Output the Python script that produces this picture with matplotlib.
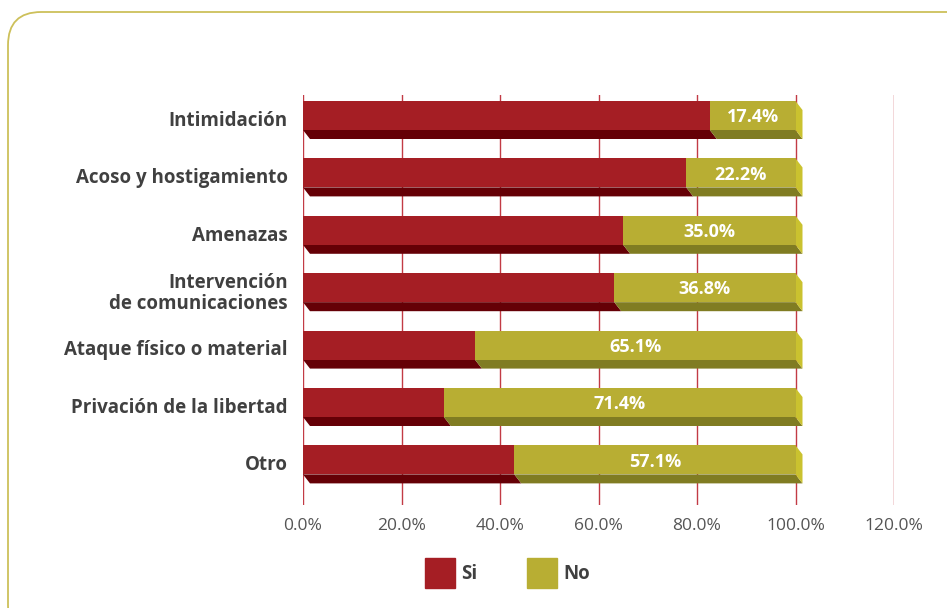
import numpy as np
import matplotlib.pyplot as plt
from matplotlib.patches import Polygon, FancyBboxPatch, Rectangle

categories = ['Intimidación', 'Acoso y hostigamiento', 'Amenazas',
              'Intervención\nde comunicaciones', 'Ataque físico o material',
              'Privación de la libertad', 'Otro']
si = [82.6, 77.8, 65.0, 63.2, 34.9, 28.6, 42.9]
no = [17.4, 22.2, 35.0, 36.8, 65.1, 71.4, 57.1]
ticks = [0, 20, 40, 60, 80, 100, 120]

RED, RED_DK = '#a51e24', '#650006'
YEL, YEL_DK, YEL_SIDE = '#b8ae33', '#807c22', '#cac22f'
TXT = '#404040'

plt.rcParams['font.family'] = ['Open Sans', 'DejaVu Sans']

fig = plt.figure(figsize=(9.47, 6.08), dpi=100)

# rounded frame
frame = FancyBboxPatch((8 / 947, -0.05), 1.2, 1.05 - 12 / 608,
                       boxstyle='round,pad=0,rounding_size=0.035',
                       transform=fig.transFigure, fill=False,
                       edgecolor='#cdc05a', lw=1.3, mutation_aspect=947 / 608)
fig.patches.append(frame)

ax = fig.add_axes([303 / 947, 1 - 505 / 608, 591 / 947, 410 / 608])

n = len(categories)
y = np.arange(n)
h = 0.505          # front face height
dy = 0.157         # depth (down)
dx = 1.42          # depth (right)

for xv in ticks:
    ax.axvline(xv, color='#c23b45', lw=1, zorder=0)

for i in range(n):
    top, bot = y[i] - h / 2, y[i] + h / 2
    s, t = si[i], si[i] + no[i]
    # bottom faces
    ax.add_patch(Polygon([(0, bot), (s, bot), (s + dx, bot + dy), (dx, bot + dy)],
                         closed=True, color=RED_DK, lw=0, zorder=2))
    ax.add_patch(Polygon([(s, bot), (t, bot), (t + dx, bot + dy), (s + dx, bot + dy)],
                         closed=True, color=YEL_DK, lw=0, zorder=2))
    # right side face
    ax.add_patch(Polygon([(t, top), (t + dx, top + dy), (t + dx, bot + dy), (t, bot)],
                         closed=True, color=YEL_SIDE, lw=0, zorder=2))

ax.barh(y, si, height=h, color=RED, zorder=3)
ax.barh(y, no, left=si, height=h, color=YEL, zorder=3)

for i in range(n):
    ax.text(si[i] + no[i] / 2, y[i] + 0.03, f'{no[i]:.1f}%', ha='center', va='center',
            color='white', fontsize=13, fontweight='bold', zorder=4)

ax.set_xlim(0, 120)
ax.set_ylim(6.786, -0.357)
ax.set_xticks(ticks)
ax.set_xticklabels([f'{v:.1f}%' for v in ticks], color='#555555', fontsize=12.5)
ax.set_yticks(y + 0.05)
ax.set_yticklabels(categories, fontsize=13.5, fontweight='bold', color=TXT,
                   linespacing=1.05)
ax.tick_params(axis='both', length=0)
ax.tick_params(axis='y', pad=11)
ax.tick_params(axis='x', pad=9)
for sp in ax.spines.values():
    sp.set_visible(False)

# legend
for x0, c, lab in [(425, RED, 'Si'), (527, YEL, 'No')]:
    fig.patches.append(Rectangle((x0 / 947, 1 - 588 / 608), 30 / 947, 30 / 608,
                                 transform=fig.transFigure, color=c))
    fig.text((x0 + 36) / 947, 1 - 574 / 608, lab, ha='left', va='center',
             fontsize=13.5, fontweight='bold', color=TXT)

fig.savefig('out.png', dpi=100)
